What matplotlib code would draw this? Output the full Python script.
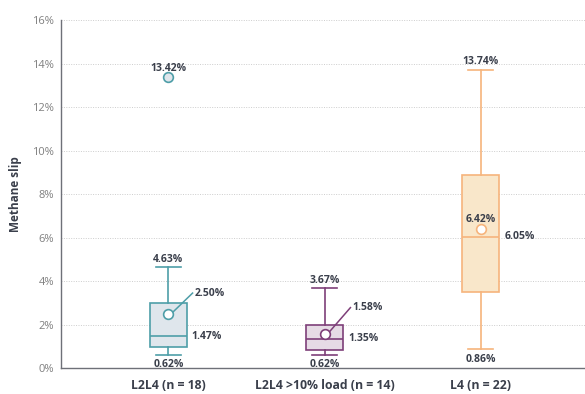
"""Methane slip box plots by engine load group."""

import matplotlib

matplotlib.use('Agg')
import matplotlib.pyplot as plt

plt.rcParams['font.family'] = ['Open Sans', 'DejaVu Sans']

# data (percent)
labels = ['L2L4 (n = 18)', 'L2L4 >10% load (n = 14)', 'L4 (n = 22)']
whis_lo = [0.62, 0.62, 0.86]
q1 = [0.98, 0.83, 3.50]
median = [1.47, 1.35, 6.05]
q3 = [3.01, 1.99, 8.89]
whis_hi = [4.63, 3.67, 13.74]
mean = [2.50, 1.58, 6.42]
outliers = [[13.42], [], []]

EDGE = ['#4e9ea8', '#7e3f79', '#f6b47c']
FILL = ['#dfe6ec', '#e6dbe5', '#f9e7ca']
TEXT = '#3a3f4b'
GREY = '#7f7f7f'

fig = plt.figure(figsize=(5.85, 3.94), dpi=100)
ax = fig.add_axes([0.104, 0.066, 0.896, 0.882])

stats = []
for i in range(len(labels)):
    stats.append(dict(whislo=whis_lo[i], q1=q1[i], med=median[i], q3=q3[i],
                      whishi=whis_hi[i], mean=mean[i], fliers=outliers[i]))

positions = [1, 2, 3]
for i, st in enumerate(stats):
    c = EDGE[i]
    ax.bxp([st], positions=[positions[i]], widths=0.237, patch_artist=True,
           showmeans=True, showfliers=True, capwidths=0.16,
           boxprops=dict(facecolor=FILL[i], edgecolor=c, linewidth=1.2),
           medianprops=dict(color=c, linewidth=1.2),
           whiskerprops=dict(color=c, linewidth=1.2),
           capprops=dict(color=c, linewidth=1.2),
           meanprops=dict(marker='o', markerfacecolor='white', markeredgecolor=c,
                          markersize=7, markeredgewidth=1.2),
           flierprops=dict(marker='o', markerfacecolor=FILL[i], markeredgecolor=c,
                           markersize=7, markeredgewidth=1.2))

lab = dict(fontsize=7.5, fontweight='bold', color=TEXT)

# whisker ends, medians, outliers
for i, x in enumerate(positions):
    ax.text(x, whis_hi[i] + 0.12, f'{whis_hi[i]:.2f}%', ha='center', va='bottom', **lab)
    ax.text(x, whis_lo[i] - 0.2, f'{whis_lo[i]:.2f}%', ha='center', va='top', **lab)
    ax.text(x + 0.15, median[i], f'{median[i]:.2f}%', ha='left', va='center', **lab)
    for v in outliers[i]:
        ax.text(x, v + 0.12, f'{v:.2f}%', ha='center', va='bottom', **lab)

# mean labels with leader lines for the two small boxes
for i, dx, dy in [(0, 0.155, 0.95), (1, 0.165, 1.2)]:
    x = positions[i]
    ax.plot([x + 0.03, x + dx], [mean[i] + 0.08, mean[i] + dy], color=EDGE[i], lw=1.1)
    ax.text(x + dx + 0.01, mean[i] + dy, f'{mean[i]:.2f}%', ha='left', va='center', **lab)
ax.text(positions[2], mean[2] + 0.15, f'{mean[2]:.2f}%', ha='center', va='bottom', **lab)

ax.set_xlim(0.312, 3.666)
ax.set_ylim(0, 16)
ax.set_yticks(range(0, 17, 2))
ax.set_yticklabels([f'{t}%' for t in range(0, 17, 2)])
ax.set_xticks(positions)
ax.set_xticklabels(labels, fontsize=8.8, fontweight='bold', color=TEXT)
ax.tick_params(axis='y', length=0, labelsize=8, labelcolor=GREY, pad=5)
ax.tick_params(axis='x', length=0, pad=8)
ax.set_ylabel('Methane slip', fontsize=8.5, fontweight='bold', color=TEXT, labelpad=7)

ax.grid(axis='y', linestyle=(0, (1, 1.5)), color='#cdcdcd', linewidth=0.7)
ax.set_axisbelow(True)
for side in ('top', 'right'):
    ax.spines[side].set_visible(False)
for side in ('left', 'bottom'):
    ax.spines[side].set_color('#6e7078')
    ax.spines[side].set_linewidth(1.0)

fig.savefig('out.png', dpi=100)
